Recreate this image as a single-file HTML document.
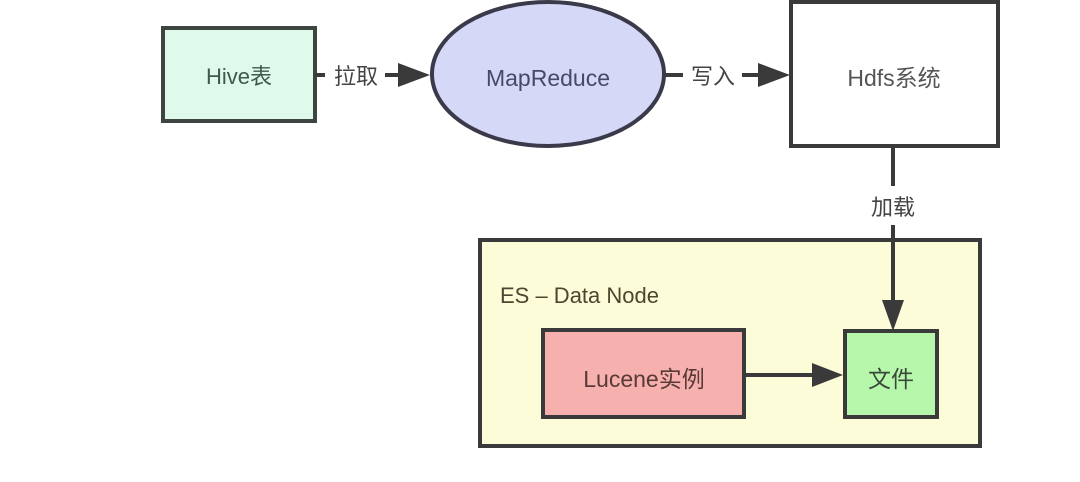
<!DOCTYPE html>
<html><head><meta charset="utf-8"><style>
html,body{margin:0;padding:0;background:#fff;}
svg{display:block;}
text{font-family:"Liberation Sans","Noto Sans CJK SC",sans-serif;}
</style></head><body>
<svg width="1080" height="482" viewBox="0 0 1080 482" xmlns="http://www.w3.org/2000/svg">
<defs>
<marker id="a" markerWidth="10" markerHeight="10" refX="9" refY="5" orient="auto" markerUnits="userSpaceOnUse">
</marker>
</defs>
<!-- Hive -->
<rect x="163" y="28" width="152" height="93" fill="#dff9ea" stroke="#3c4540" stroke-width="4"/>
<text x="239" y="84" font-size="22" fill="#3f5a4c" text-anchor="middle">Hive表</text>
<!-- arrow 1 -->
<line x1="315" y1="75" x2="325" y2="75" stroke="#3a3a3a" stroke-width="4"/>
<text x="356" y="84" font-size="22" fill="#444" text-anchor="middle">拉取</text>
<line x1="385" y1="75" x2="400" y2="75" stroke="#3a3a3a" stroke-width="4"/>
<polygon points="398,63 430,75 398,87" fill="#3a3a3a"/>
<!-- ellipse -->
<ellipse cx="548" cy="74" rx="116" ry="72" fill="#d6d8f8" stroke="#3a3a4a" stroke-width="4"/>
<text x="548" y="86" font-size="23" fill="#464a66" text-anchor="middle">MapReduce</text>
<!-- arrow 2 -->
<line x1="664" y1="75" x2="683" y2="75" stroke="#3a3a3a" stroke-width="4"/>
<text x="713" y="84" font-size="22" fill="#444" text-anchor="middle">写入</text>
<line x1="742" y1="75" x2="760" y2="75" stroke="#3a3a3a" stroke-width="4"/>
<polygon points="758,63 790,75 758,87" fill="#3a3a3a"/>
<!-- Hdfs -->
<rect x="791" y="2" width="207" height="144" fill="#fff" stroke="#3a3a3a" stroke-width="4"/>
<text x="894" y="86" font-size="23" fill="#555" text-anchor="middle">Hdfs系统</text>
<!-- outer -->
<rect x="480" y="240" width="500" height="206" fill="#fdfcd8" stroke="#3a3a3a" stroke-width="4"/>
<text x="500" y="303" font-size="22" fill="#4a4630">ES – Data Node</text>
<!-- vertical arrow -->
<line x1="893" y1="146" x2="893" y2="186" stroke="#3a3a3a" stroke-width="4"/>
<text x="893" y="215" font-size="22" fill="#444" text-anchor="middle">加载</text>
<line x1="893" y1="225" x2="893" y2="302" stroke="#3a3a3a" stroke-width="4"/>
<polygon points="882,300 893,331 904,300" fill="#3a3a3a"/>
<!-- Lucene -->
<rect x="543" y="330" width="201" height="87" fill="#f6b0ad" stroke="#3a3a3a" stroke-width="4"/>
<text x="644" y="387" font-size="23" fill="#5a3a38" text-anchor="middle">Lucene实例</text>
<line x1="744" y1="375" x2="815" y2="375" stroke="#3a3a3a" stroke-width="4"/>
<polygon points="812,363 843,375 812,387" fill="#3a3a3a"/>
<!-- 文件 -->
<rect x="845" y="331" width="92" height="86" fill="#b6f7ac" stroke="#3a3a3a" stroke-width="4"/>
<text x="891" y="387" font-size="23" fill="#3a4a38" text-anchor="middle">文件</text>
</svg>
</body></html>
